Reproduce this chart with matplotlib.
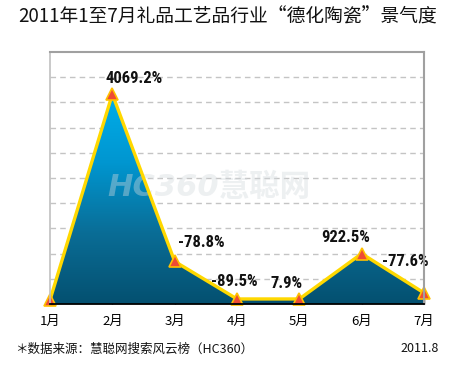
import numpy as np
import matplotlib
matplotlib.use("Agg")
import matplotlib.pyplot as plt
from matplotlib.colors import LinearSegmentedColormap
from matplotlib.patches import Polygon
from matplotlib import font_manager

plt.rcParams['font.family'] = ['Noto Sans CJK SC', 'DejaVu Sans']

months = ["1月", "2月", "3月", "4月", "5月", "6月", "7月"]
# plotted heights (in grid units, as drawn in the reference)
heights = [0.16, 8.33, 1.69, 0.2, 0.2, 2.0, 0.44]
labels = ["", "4069.2%", "-78.8%", "-89.5%", "7.9%", "922.5%", "-77.6%"]
# label anchor offsets (grid units)
label_dx = [0, 0.35, 0.42, -0.05, -0.21, -0.26, -0.30]
label_y = [0, 8.95, 2.45, 0.9, 0.83, 2.62, 1.7]

title = "2011年1至7月礼品工艺品行业“德化陶瓷”景气度"
source = "＊数据来源：慧聪网搜索风云榜（HC360）"
date = "2011.8"

names = {f.name for f in font_manager.fontManager.ttflist}
narrow = [n for n in ["Liberation Sans Narrow", "DejaVu Sans Condensed", "Roboto Condensed",
                      "Open Sans Condensed"] if n in names]
label_family = narrow + ["DejaVu Sans"]

W, H = 450, 370
fig = plt.figure(figsize=(W / 100, H / 100), dpi=100)
ax = fig.add_axes([50 / W, (H - 304) / H, 374 / W, 252 / H])

x = np.arange(len(months))
y = np.array(heights)

ax.set_xlim(0, 6)
ax.set_ylim(0, 10)

# gradient fill
cmap = LinearSegmentedColormap.from_list("g", ["#045070", "#0a6d96", "#0096d0", "#00aeea"])
grad = np.linspace(0, 1, 256).reshape(-1, 1)
im = ax.imshow(grad, extent=[0, 6, 0, 8.4], origin="lower", aspect="auto",
               cmap=cmap, zorder=2)
verts = [(0, 0)] + list(zip(x, y)) + [(6, 0)]
poly = Polygon(verts, closed=True, transform=ax.transData, facecolor="none", edgecolor="none")
ax.add_patch(poly)
im.set_clip_path(poly)

# grid
for gy in range(1, 10):
    ax.axhline(gy, color="#c4c4c4", lw=1, ls=(0, (4, 3)), zorder=1)

# watermark
ax.text(2.55, 4.65, "HC360慧聪网", fontsize=22, fontweight="bold", style="italic",
        color="#d4dade", alpha=0.4, ha="center", va="center", zorder=3,
        family=["DejaVu Sans", "Noto Sans CJK SC"])

# line and markers
ax.plot(x, y, color="#FFD800", lw=2.4, zorder=4, solid_joinstyle="miter", clip_on=False)
ax.plot(x, y, ls="none", marker="^", ms=8, mfc="#EE4B35", mec="#FFC000", mew=1.2,
        zorder=5, clip_on=False)

fs = 12 if narrow else 9.5
for i, lab in enumerate(labels):
    if lab:
        ax.text(x[i] + label_dx[i], label_y[i], lab, ha="center", va="center",
                fontsize=fs, fontweight="bold", fontstretch="condensed",
                family=label_family, color="#111111", zorder=6)

# spines
ax.spines["left"].set_color("#c0c0c0")
ax.spines["left"].set_linewidth(1.2)
ax.spines["top"].set_color("#a0a0a0")
ax.spines["top"].set_linewidth(1.5)
ax.spines["right"].set_color("#a0a0a0")
ax.spines["right"].set_linewidth(1.5)
ax.spines["bottom"].set_color("black")
ax.spines["bottom"].set_linewidth(1.3)
for s in ax.spines.values():
    s.set_zorder(7)

ax.set_yticks([])
ax.set_xticks(x)
ax.set_xticklabels(months, fontsize=9.5)
ax.tick_params(axis="x", direction="in", length=4, width=1, color="black", pad=8)

fig.text(228 / W, 1 - 17 / H, title, ha="center", va="center", fontsize=13.5, color="#111111")
fig.text(15 / W, 1 - 349 / H, source, ha="left", va="center", fontsize=9, color="#111111")
fig.text(439 / W, 1 - 349 / H, date, ha="right", va="center", fontsize=9, color="#111111")

fig.savefig("out.png", dpi=100, facecolor="white")
